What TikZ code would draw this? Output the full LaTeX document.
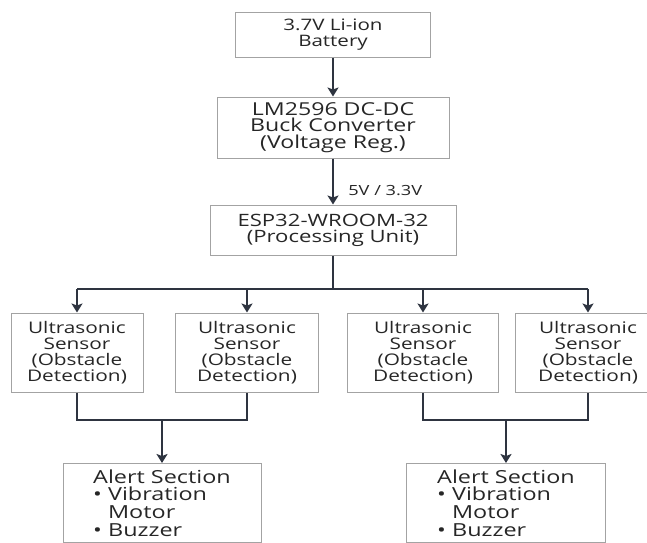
\documentclass[tikz,border=0pt]{standalone}
\usepackage{fontspec}
\setmainfont{Open Sans}[FakeStretch=1.3]
\usetikzlibrary{arrows.meta}

\definecolor{boxgray}{HTML}{A3A3A3}
\definecolor{wiregray}{HTML}{2E3440}
\definecolor{txtgray}{HTML}{262626}

\newcommand{\fsz}[2]{\fontsize{#1}{#2}\selectfont}

\tikzset{
    blk/.style={draw=boxgray, line width=1pt, inner sep=0pt, align=center, text=txtgray,
                font=\fsz{16}{16}},
    alertblk/.style={blk, inner ysep=6pt, align=left, anchor=north, font=\fsz{18}{17.7}},
    wire/.style={draw=wiregray, line width=2pt},
    arr/.style={wire, -{Stealth[length=9pt, width=11pt, inset=2pt]}},
}

\begin{document}
\begin{tikzpicture}[x=1pt, y=-1pt]
        \useasboundingbox (0,0) rectangle (647,542);
        \clip (0,0) rectangle (647,542);

        \node[blk, minimum width=195pt, minimum height=45pt, font=\fsz{15.8}{16.5}] (bat) at (333,34.5) {3.7V Li-ion\\Battery};
        \node[blk, minimum width=232pt, minimum height=61pt, font=\fsz{17.8}{16.5}] (buck) at (333,127.5) {LM2596 DC-DC\\Buck Converter\\(Voltage Reg.)};
        \node[blk, minimum width=246pt, minimum height=50pt, font=\fsz{17}{16}] (esp) at (333,230) {ESP32-WROOM-32\\(Processing Unit)};

        \node[blk, minimum width=132pt, minimum height=79pt] (s1) at (77,352.5) {Ultrasonic\\Sensor\\(Obstacle\\Detection)};
        \node[blk, minimum width=143pt, minimum height=79pt] (s2) at (247,352.5) {Ultrasonic\\Sensor\\(Obstacle\\Detection)};
        \node[blk, minimum width=151pt, minimum height=79pt] (s3) at (423,352.5) {Ultrasonic\\Sensor\\(Obstacle\\Detection)};
        \node[blk, minimum width=146pt, minimum height=79pt] (s4) at (588,352.5) {Ultrasonic\\Sensor\\(Obstacle\\Detection)};

        \node[alertblk, minimum width=198pt] (al1) at (162,463)
            {Alert Section\\• Vibration\\\phantom{• }Motor\\• Buzzer};
        \node[alertblk, minimum width=199pt] (al2) at (506,463)
            {Alert Section\\• Vibration\\\phantom{• }Motor\\• Buzzer};

        \coordinate (bus) at (333,289);
        \coordinate (join) at (0,420);

        \draw[arr] (bat) -- (buck);
        \draw[arr] (buck) -- node[pos=0.7, right=11pt, text=txtgray, font=\fsz{14}{15}] (volt) {5V / 3.3V} (esp);

        \draw[wire] (esp) -- (esp |- bus);
        \draw[wire] (s1 |- bus) -- (s4 |- bus);
        \foreach \s in {s1,s2,s3,s4}
            \draw[arr] (\s |- bus) -- (\s);

        \draw[wire] (s1) -- (s1 |- join) -- (s2 |- join) -- (s2);
        \draw[wire] (s3) -- (s3 |- join) -- (s4 |- join) -- (s4);
        \draw[arr] (al1 |- join) -- (al1);
        \draw[arr] (al2 |- join) -- (al2);
\end{tikzpicture}
\end{document}
